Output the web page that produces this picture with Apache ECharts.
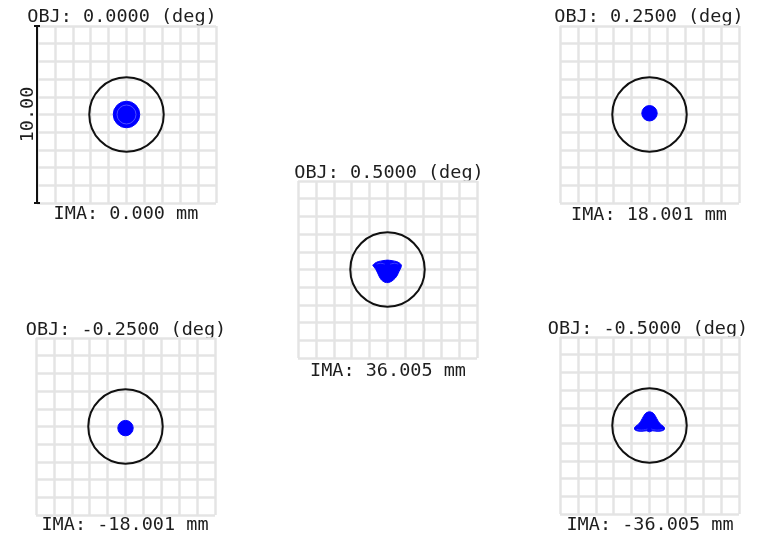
<!DOCTYPE html>
<html>
<head>
<meta charset="utf-8">
<script src="https://cdn.jsdelivr.net/npm/echarts@6/dist/echarts.min.js"></script>
<style>html,body{margin:0;padding:0;background:#fff;}#c{width:758px;height:537px;}</style>
</head>
<body>
<div id="c"></div>
<script>
// ---- data ----
const fieldAngles = ['0.0000', '0.2500', '0.5000', '-0.2500', '-0.5000'];
const imageHeights = ['0.000', '18.001', '36.005', '-18.001', '-36.005'];
const airyRadii = [2.08, 2.08, 2.08, 2.08, 2.08];
const scaleBarLabel = '10.00';
const boxMin = -5, boxMax = 5, gridStep = 1;

// round spots: [x, y, radius]
const spotDiskPanel0 = [0, 0.0, 0.74];
const spotRingPanel0 = [0, 0.0, 0.53];
const spotDiskPanel1 = [0, 0.07, 0.43];
const spotDiskPanel3 = [0, -0.09, 0.43];
// outlined spots: [x, y] vertices
const spotOutlinePanel2 = [[-0.82,0.24],[-0.7,0.36],[-0.5,0.45],[-0.25,0.5],[0,0.53],[0.25,0.5],[0.5,0.45],[0.68,0.36],[0.78,0.24],[0.74,0.08],[0.64,-0.12],[0.55,-0.32],[0.42,-0.5],[0.25,-0.65],[0.05,-0.74],[-0.15,-0.72],[-0.33,-0.6],[-0.45,-0.42],[-0.55,-0.2],[-0.66,0.02],[-0.76,0.15]];
const spotOutlinePanel4 = [[0,0.77],[0.18,0.72],[0.3,0.58],[0.4,0.4],[0.5,0.22],[0.62,0.07],[0.76,-0.04],[0.84,-0.14],[0.8,-0.26],[0.6,-0.32],[0.35,-0.32],[0.15,-0.3],[0,-0.36],[-0.15,-0.3],[-0.35,-0.32],[-0.6,-0.32],[-0.8,-0.26],[-0.84,-0.14],[-0.76,-0.04],[-0.62,0.07],[-0.5,0.22],[-0.4,0.4],[-0.3,0.58],[-0.18,0.72]];
const streaksPanel2 = [[[-0.6,0.3],[-0.4,0.35],[-0.15,0.3]], [[0.15,0.3],[0.4,0.35],[0.6,0.3]]];
const streaksPanel4 = [[[-0.72,-0.22],[-0.45,-0.26],[-0.12,-0.2]], [[0.1,-0.2],[0.45,-0.26],[0.74,-0.22]]];

// ---- layout ----
const FONT = '18.5px "DejaVu Sans Mono"';
const W = 179, H = 177;
const panels = [
  {left: 37,  top: 26,  obj: [122, 17.5], ima: [126, 214.5]},
  {left: 560, top: 26,  obj: [649, 17.5], ima: [649, 215.5]},
  {left: 298, top: 181, obj: [389, 173],  ima: [388, 371.5]},
  {left: 36,  top: 338, obj: [126, 330],  ima: [125, 525]},
  {left: 560, top: 337, obj: [648, 329],  ima: [650, 525]}
];
const BLUE = '#0000ff';
const LIGHT = '#3a3aff';

const grid = [], xAxis = [], yAxis = [], series = [], graphic = [];
panels.forEach((p, i) => {
  grid.push({left: p.left, top: p.top, width: W, height: H});
  const base = {
    gridIndex: i, type: 'value', min: boxMin, max: boxMax, interval: gridStep,
    axisLabel: {show: false}, axisTick: {show: false}, axisLine: {show: false},
    splitLine: {show: true, showMinLine: true, showMaxLine: true, lineStyle: {color: '#e4e4e4', width: 2.5}}
  };
  xAxis.push(Object.assign({}, base));
  yAxis.push(Object.assign({}, base));
  graphic.push({type: 'text', x: p.obj[0], y: p.obj[1], style: {text: 'OBJ: ' + fieldAngles[i] + ' (deg)', font: FONT, fill: '#1e1e1e', align: 'center', verticalAlign: 'middle'}});
  graphic.push({type: 'text', x: p.ima[0], y: p.ima[1], style: {text: 'IMA: ' + imageHeights[i] + ' mm', font: FONT, fill: '#1e1e1e', align: 'center', verticalAlign: 'middle'}});
});
// scale bar on panel 0 (two axes so the end caps sit on both sides of the bar)
const barAxis = {
  gridIndex: 0, type: 'value', min: boxMin, max: boxMax, position: 'left',
  axisLabel: {show: false}, splitLine: {show: false},
  axisLine: {show: true, onZero: false, lineStyle: {color: '#111', width: 2}},
  axisTick: {show: true, customValues: [boxMin, boxMax], length: 3, lineStyle: {color: '#111', width: 2}}
};
yAxis.push(Object.assign({}, barAxis, {
  name: scaleBarLabel, nameLocation: 'middle', nameRotate: 90, nameGap: -1,
  nameTextStyle: {fontFamily: 'DejaVu Sans Mono', fontSize: 18.5, color: '#1e1e1e'}
}));
yAxis.push(Object.assign({}, barAxis, {
  axisTick: {show: true, inside: true, customValues: [boxMin, boxMax], length: 3, lineStyle: {color: '#111', width: 2}}
}));

function diskSeries(i, d, fill, stroke, lw, z) {
  return {
    type: 'custom', xAxisIndex: i, yAxisIndex: i, z: z, silent: true,
    data: [d],
    renderItem: (params, api) => {
      const c = api.coord([api.value(0), api.value(1)]);
      const r = api.size([api.value(2), 0])[0];
      return {type: 'circle', shape: {cx: c[0], cy: c[1], r: r},
        style: {fill: fill, stroke: stroke, lineWidth: lw}};
    }
  };
}
function polySeries(i, pts, z) {
  return {
    type: 'custom', xAxisIndex: i, yAxisIndex: i, z: z, silent: true,
    data: pts,
    renderItem: (params, api) => {
      if (params.dataIndex !== 0) return null;
      const points = pts.map(q => api.coord(q));
      return {type: 'polygon', shape: {points: points, smooth: 0.25}, style: {fill: BLUE, stroke: BLUE, lineWidth: 1}};
    }
  };
}
function streakSeries(i, line) {
  return {type: 'line', xAxisIndex: i, yAxisIndex: i, data: line, symbol: 'none', smooth: true, silent: true, z: 5,
    lineStyle: {color: LIGHT, width: 1}};
}

// airy circles
panels.forEach((p, i) => series.push(diskSeries(i, [0, 0, airyRadii[i]], 'none', '#111', 2, 3)));
// spots
series.push(diskSeries(0, spotDiskPanel0, BLUE, BLUE, 1, 4));
series.push(diskSeries(0, spotRingPanel0, 'none', '#4c4cff', 1, 5));
series.push(diskSeries(1, spotDiskPanel1, BLUE, BLUE, 1, 4));
series.push(diskSeries(3, spotDiskPanel3, BLUE, BLUE, 1, 4));
series.push(polySeries(2, spotOutlinePanel2, 4));
series.push(polySeries(4, spotOutlinePanel4, 4));
streaksPanel2.forEach(l => series.push(streakSeries(2, l)));
streaksPanel4.forEach(l => series.push(streakSeries(4, l)));

const chart = echarts.init(document.getElementById('c'));
chart.setOption({
  animation: false,
  backgroundColor: '#fff',
  grid, xAxis, yAxis, series, graphic
});
</script>
</body>
</html>
